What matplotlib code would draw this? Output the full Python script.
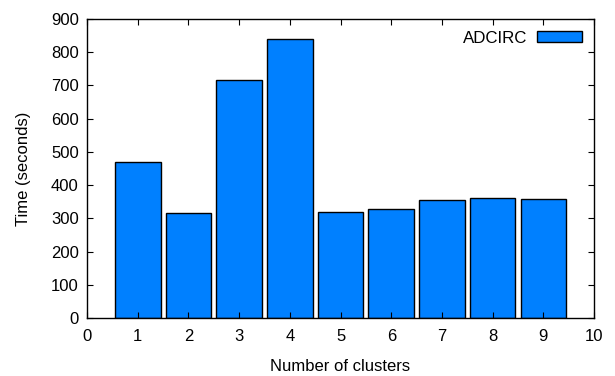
import matplotlib
matplotlib.use('Agg')
import matplotlib.pyplot as plt

# Data
clusters = [1, 2, 3, 4, 5, 6, 7, 8, 9]
times = [470, 315, 715, 841, 320, 329, 355, 360, 358]

plt.rcParams['font.family'] = ['Liberation Sans', 'DejaVu Sans']
plt.rcParams['font.size'] = 12

fig = plt.figure(figsize=(6.15, 3.76), dpi=100)
ax = fig.add_axes([0.1415, 0.1543, 0.8245, 0.7952])

ax.bar(clusters, times, width=0.9, color='#0080ff', edgecolor='black',
       linewidth=1.0, label='ADCIRC')

ax.set_xlim(0, 10)
ax.set_ylim(0, 900)
ax.set_xticks(range(0, 11))
ax.set_yticks(range(0, 901, 100))
ax.tick_params(direction='in', top=True, right=True, length=4, width=0.8)
ax.tick_params(axis='x', pad=8)
ax.tick_params(axis='y', pad=6)
for s in ax.spines.values():
    s.set_linewidth(1.0)

ax.set_xlabel('Number of clusters', labelpad=11)
ax.set_ylabel('Time (seconds)', labelpad=14)

# Legend
leg = ax.legend(loc='upper right', frameon=False, markerfirst=False,
                handlelength=2.65, handleheight=0.6, handletextpad=0.6,
                borderaxespad=0.3, fontsize=12.2)

fig.savefig('out.png', dpi=100)
plt.close()
